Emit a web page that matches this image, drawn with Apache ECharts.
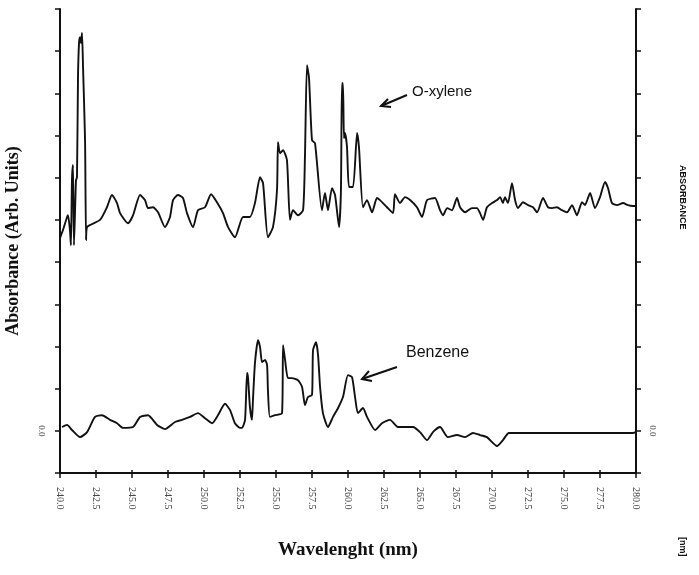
<!DOCTYPE html>
<html>
<head>
<meta charset="utf-8">
<script src="https://cdn.jsdelivr.net/npm/echarts@6/dist/echarts.min.js"></script>
<style>
  html, body { margin: 0; padding: 0; background: #fff; }
  #chart { width: 699px; height: 575px; }
</style>
</head>
<body>
<div id="chart"></div>
<script>
// wavelength (nm) / absorbance (arb. units, offset per trace)
const xTicks = [240.0, 242.5, 245.0, 247.5, 250.0, 252.5, 255.0, 257.5, 260.0, 262.5, 265.0, 267.5, 270.0, 272.5, 275.0, 277.5, 280.0];

const oxyleneX = [240.00,240.21,240.49,240.56,240.69,240.76,240.83,240.90,240.97,241.11,241.18,241.25,241.32,241.39,241.46,241.53,241.60,241.74,241.81,241.88,242.78,243.26,243.61,243.96,244.17,244.72,245.07,245.56,245.90,246.11,246.46,246.81,247.29,247.64,247.85,248.19,248.54,248.82,249.24,249.58,250.07,250.49,250.90,251.32,251.67,252.15,252.71,253.19,253.54,253.89,254.10,254.44,254.79,255.07,255.14,255.28,255.49,255.76,255.97,256.18,256.53,256.88,257.01,257.15,257.29,257.50,257.71,258.19,258.40,258.61,258.89,259.10,259.38,259.51,259.58,259.65,259.72,259.79,259.93,260.07,260.35,260.63,260.76,261.04,261.32,261.67,262.01,262.22,262.71,263.13,263.26,263.61,263.96,264.31,264.79,265.14,265.49,266.04,266.39,266.60,266.88,267.22,267.57,267.78,268.13,268.61,268.96,269.17,269.38,269.65,270.00,270.35,270.56,270.76,270.90,271.11,271.39,271.60,271.81,272.15,272.50,272.85,273.13,273.54,273.89,274.17,274.51,274.86,275.21,275.56,275.90,276.25,276.46,276.81,277.15,277.50,277.85,278.06,278.33,278.68,279.10,279.44,279.79,280.00];
const oxyleneY = [5.57,5.76,6.07,6.11,5.76,5.40,6.94,7.30,5.40,6.94,7.01,9.38,10.19,10.33,10.19,10.43,9.62,7.89,5.52,5.83,6.00,6.30,6.59,6.40,6.16,5.92,6.11,6.59,6.47,6.28,6.30,6.18,5.83,6.07,6.47,6.59,6.52,6.16,5.83,6.23,6.30,6.61,6.42,6.16,5.83,5.59,6.07,6.07,6.40,7.01,6.87,5.59,5.83,6.71,7.84,7.58,7.65,7.42,6.00,6.23,6.11,6.23,7.49,9.67,9.38,7.89,7.82,6.23,6.64,6.23,6.75,6.59,5.83,6.71,9.24,9.24,7.94,8.06,7.73,6.78,6.78,8.06,7.73,6.30,6.47,6.18,6.52,6.47,6.30,6.16,6.61,6.40,6.54,6.47,6.30,6.07,6.47,6.52,6.23,6.11,6.28,6.23,6.52,6.30,6.18,6.28,6.28,6.16,6.00,6.30,6.40,6.47,6.54,6.40,6.54,6.40,6.87,6.47,6.28,6.42,6.35,6.30,6.18,6.52,6.30,6.28,6.30,6.23,6.18,6.35,6.11,6.42,6.35,6.64,6.28,6.54,6.90,6.75,6.40,6.35,6.40,6.35,6.33,6.33];

const benzeneX = [240.14,240.49,240.83,241.39,241.88,242.43,242.92,243.47,243.96,244.38,245.07,245.56,246.11,246.74,247.29,247.99,248.47,249.03,249.58,250.07,250.56,250.97,251.46,251.81,252.15,252.50,252.64,252.85,252.99,253.06,253.19,253.33,253.40,253.54,253.75,253.89,254.03,254.24,254.38,254.44,254.58,254.93,255.42,255.49,255.63,255.83,256.11,256.53,256.81,257.01,257.22,257.50,257.57,257.78,257.92,258.06,258.26,258.61,258.96,259.31,259.65,260.00,260.28,260.49,260.69,261.04,261.32,261.88,262.36,262.92,263.47,264.10,264.51,265.00,265.49,265.90,266.39,266.94,267.57,268.13,268.68,269.17,269.65,270.35,270.76,271.18,279.79,280.00];
const benzeneY = [1.09,1.14,1.02,0.85,0.97,1.33,1.37,1.26,1.18,1.07,1.09,1.33,1.37,1.14,1.04,1.21,1.26,1.33,1.42,1.30,1.18,1.37,1.64,1.49,1.18,1.07,1.07,1.26,2.37,2.25,1.56,1.26,1.73,2.61,3.15,2.99,2.63,2.68,2.56,1.97,1.33,1.37,1.42,3.03,2.68,2.25,2.25,2.20,2.04,1.61,1.80,1.85,2.91,3.10,2.80,2.04,1.42,1.09,1.33,1.54,1.80,2.32,2.27,1.80,1.42,1.54,1.33,1.02,1.18,1.26,1.09,1.09,1.09,0.97,0.78,0.97,1.09,0.85,0.90,0.85,0.95,0.90,0.85,0.64,0.78,0.95,0.95,0.97];

const zip = (xs, ys) => xs.map((x, i) => [x, ys[i]]);

const chart = echarts.init(document.getElementById('chart'), null, { renderer: 'canvas' });

const axisLine = { show: true, lineStyle: { color: '#111', width: 2 } };
const tickStyle = { color: '#111', width: 1.5 };
const serif = '"Liberation Serif", "DejaVu Serif", serif';
const sans = '"Liberation Sans", Arial, sans-serif';

const option = {
  backgroundColor: '#ffffff',
  animation: false,
  grid: { left: 60, right: 63, top: 9, bottom: 102, containLabel: false, outerBoundsMode: 'none' },
  xAxis: [
    {
      type: 'value', position: 'bottom',
      min: 240, max: 280, interval: 2.5,
      name: 'Wavelenght (nm)', nameLocation: 'middle', nameGap: 68,
      nameTextStyle: { fontFamily: serif, fontWeight: 'bold', fontSize: 19, color: '#111' },
      axisLine: axisLine,
      axisTick: { show: true, length: 5, lineStyle: tickStyle },
      axisLabel: {
        rotate: -90, margin: 14, fontSize: 10, fontFamily: serif, color: '#444',
        formatter: v => xTicks.includes(v) ? v.toFixed(1) : ''
      },
      splitLine: { show: false }
    },
    {
      type: 'value', position: 'top',
      min: 240, max: 280, interval: 2.5,
      axisLine: axisLine,
      axisTick: { show: true, length: 3, lineStyle: tickStyle },
      axisLabel: { show: false },
      splitLine: { show: false }
    }
  ],
  yAxis: [
    {
      type: 'value', position: 'left',
      min: 0, max: 11, interval: 1,
      name: 'Absorbance (Arb. Units)', nameLocation: 'middle', nameGap: 38,
      nameTextStyle: { fontFamily: serif, fontWeight: 'bold', fontSize: 18, color: '#111' },
      axisLine: axisLine,
      axisTick: { show: true, length: 5, lineStyle: tickStyle },
      axisLabel: {
        rotate: -90, margin: 14, fontSize: 9, fontFamily: serif, color: '#555',
        formatter: v => v === 1 ? '0.0' : ''
      },
      splitLine: { show: false }
    },
    {
      type: 'value', position: 'right',
      min: 0, max: 11, interval: 1,
      axisLine: axisLine,
      axisTick: { show: true, length: 5, lineStyle: tickStyle },
      axisLabel: {
        rotate: -90, margin: 12, fontSize: 9, fontFamily: serif, color: '#555',
        formatter: v => v === 1 ? '0.0' : ''
      },
      splitLine: { show: false }
    }
  ],
  series: [
    {
      name: 'O-xylene', type: 'line', data: zip(oxyleneX, oxyleneY),
      showSymbol: false, smooth: 0.2,
      lineStyle: { color: '#111', width: 1.9 }
    },
    {
      name: 'Benzene', type: 'line', data: zip(benzeneX, benzeneY),
      showSymbol: false, smooth: 0.2,
      lineStyle: { color: '#111', width: 1.9 }
    }
  ],
  graphic: [
    { type: 'text', left: 412, top: 84, style: { text: 'O-xylene', font: '15px ' + sans, fill: '#111' } },
    { type: 'polyline', shape: { points: [[407, 95], [381, 106]] }, style: { stroke: '#111', lineWidth: 2 } },
    { type: 'polyline', shape: { points: [[388, 99], [381, 106], [391, 107]] }, style: { stroke: '#111', lineWidth: 2, fill: null } },
    { type: 'text', left: 406, top: 345, style: { text: 'Benzene', font: '16px ' + sans, fill: '#111' } },
    { type: 'polyline', shape: { points: [[397, 367], [362, 379]] }, style: { stroke: '#111', lineWidth: 2 } },
    { type: 'polyline', shape: { points: [[369, 371], [362, 379], [372, 381]] }, style: { stroke: '#111', lineWidth: 2, fill: null } },
    { type: 'text', x: 687, y: 165, rotation: -Math.PI / 2, style: { text: 'ABSORBANCE', font: 'bold 9px ' + sans, fill: '#111' } },
    { type: 'text', x: 687, y: 537, rotation: -Math.PI / 2, style: { text: '[nm]', font: 'bold 9px ' + sans, fill: '#111' } }
  ]
};

chart.setOption(option);
</script>
</body>
</html>
